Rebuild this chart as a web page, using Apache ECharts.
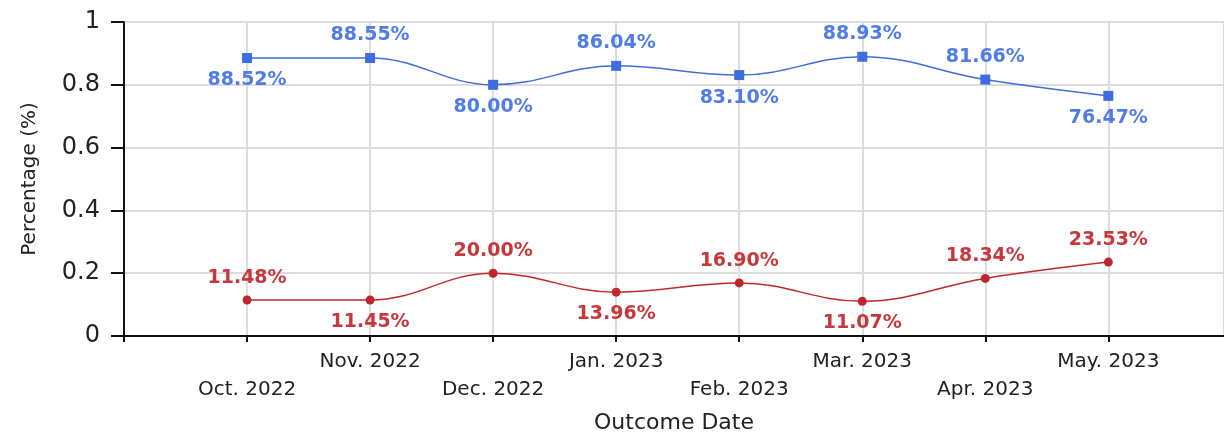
<!DOCTYPE html>
<html>
<head>
<meta charset="utf-8">
<script src="https://cdn.jsdelivr.net/npm/echarts@6/dist/echarts.min.js"></script>
<style>
  html, body { margin: 0; padding: 0; background: #fff; }
  #main { width: 1224px; height: 439px; }
</style>
</head>
<body>
<div id="main"></div>
<script>
// months along the x axis (placed at 1..8)
var months = ['Oct. 2022', 'Nov. 2022', 'Dec. 2022', 'Jan. 2023', 'Feb. 2023', 'Mar. 2023', 'Apr. 2023', 'May. 2023'];
var blueValues = [0.8852, 0.8855, 0.8000, 0.8604, 0.8310, 0.8893, 0.8166, 0.7647];
var redValues = [0.1148, 0.1145, 0.2000, 0.1396, 0.1690, 0.1107, 0.1834, 0.2353];
// where each data label sits
var bluePos = ['bottom', 'top', 'bottom', 'top', 'bottom', 'top', 'top', 'bottom'];
var redPos = ['top', 'bottom', 'top', 'bottom', 'top', 'bottom', 'top', 'top'];

var font = '"DejaVu Sans", Verdana, sans-serif';
var chart = echarts.init(document.getElementById('main'));

function toPoints(vals, pos) {
  return vals.map(function (v, i) {
    return {
      value: [i + 1, v],
      label: { position: pos[i] }
    };
  });
}

function pct(p) {
  return (p.value[1] * 100).toFixed(2) + '%';
}

var labelBase = {
  show: true,
  formatter: pct,
  fontFamily: font,
  fontSize: 19,
  fontWeight: 'bold',
  distance: 8
};

var option = {
  animation: false,
  backgroundColor: '#fff',
  grid: { left: 124, right: 0, top: 22, bottom: 102 },
  xAxis: {
    type: 'value',
    min: 0,
    max: 8.94,
    interval: 1,
    name: 'Outcome Date',
    nameLocation: 'middle',
    nameGap: 76,
    nameTextStyle: { fontFamily: font, fontSize: 22, color: '#222' },
    axisLine: { lineStyle: { color: '#111', width: 2 } },
    axisTick: { show: true, length: 6, lineStyle: { color: '#111', width: 2 } },
    splitLine: { show: true, lineStyle: { color: '#dddddd', width: 2 } },
    axisLabel: {
      showMaxLabel: false,
      margin: 12,
      fontFamily: font,
      fontSize: 20,
      color: '#222',
      lineHeight: 28,
      formatter: function (v) {
        if (v < 1 || v > 8) return '';
        var s = months[v - 1];
        return v % 2 === 1 ? '\n' + s : s;
      }
    }
  },
  yAxis: {
    type: 'value',
    min: 0,
    max: 1,
    interval: 0.2,
    name: 'Percentage (%)',
    nameLocation: 'middle',
    nameGap: 84,
    nameTextStyle: { fontFamily: font, fontSize: 20, color: '#222' },
    axisLine: { show: true, lineStyle: { color: '#111', width: 2 } },
    axisTick: { show: true, length: 13, lineStyle: { color: '#111', width: 2 } },
    splitLine: { show: true, lineStyle: { color: '#dddddd', width: 2 } },
    axisLabel: {
      margin: 24,
      fontFamily: font,
      fontSize: 24,
      color: '#222',
      formatter: function (v) { return String(Math.round(v * 10) / 10); }
    }
  },
  series: [
    {
      type: 'line',
      smooth: 0.4,
      symbol: 'rect',
      symbolSize: 10,
      itemStyle: { color: '#3f6de0' },
      lineStyle: { color: '#3f6de0', width: 1.5 },
      label: Object.assign({ color: '#4f7ce8' }, labelBase),
      data: toPoints(blueValues, bluePos)
    },
    {
      type: 'line',
      smooth: 0.4,
      symbol: 'circle',
      symbolSize: 9,
      itemStyle: { color: '#c0272d' },
      lineStyle: { color: '#c0272d', width: 1.5 },
      label: Object.assign({ color: '#c8373c' }, labelBase),
      data: toPoints(redValues, redPos)
    }
  ]
};

chart.setOption(option);
</script>
</body>
</html>
